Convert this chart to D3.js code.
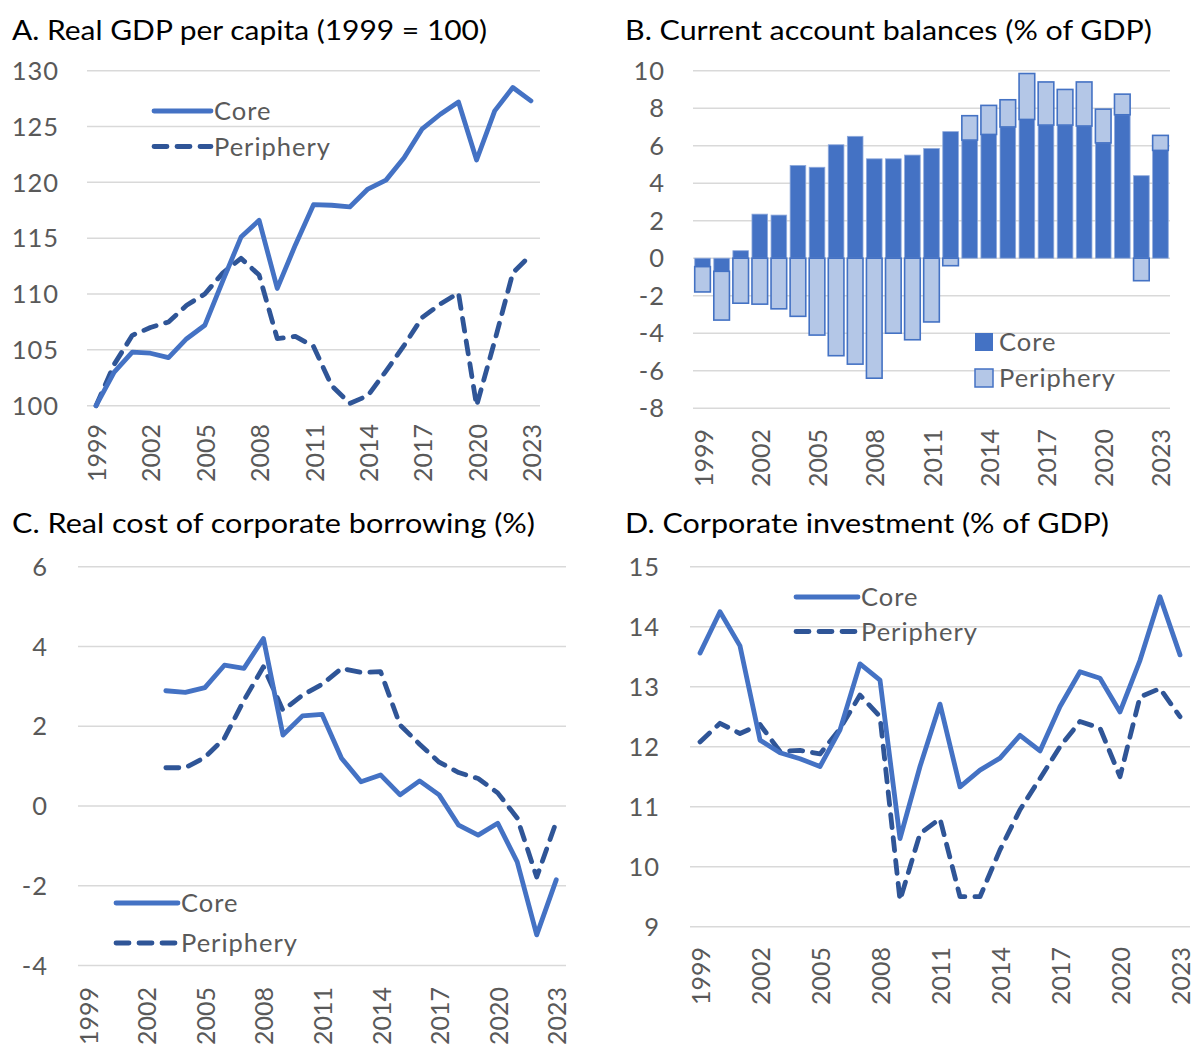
<!DOCTYPE html>
<html>
<head>
<meta charset="utf-8">
<script src="https://cdn.jsdelivr.net/npm/d3@7"></script>
<style>
  html, body { margin: 0; padding: 0; background: #fff; }
  svg text { font-family: Lato, "Open Sans", "DejaVu Sans", sans-serif; }
</style>
</head>
<body>
<svg id="chart" width="1196" height="1049"></svg>
<script>
// ---------- DATA ----------
const years = [1999,2000,2001,2002,2003,2004,2005,2006,2007,2008,2009,2010,2011,2012,2013,2014,2015,2016,2017,2018,2019,2020,2021,2022,2023];
const xTickLabels = ["1999","2002","2005","2008","2011","2014","2017","2020","2023"];
const seriesNames = ["Core", "Periphery"];

// A. Real GDP per capita (1999 = 100)
const gdpCore = [100,103.0,104.8,104.7,104.3,106.0,107.2,111.2,115.1,116.6,110.5,114.4,118.0,117.95,117.8,119.4,120.2,122.2,124.8,126.1,127.2,122.0,126.4,128.5,127.3];
const gdpPeriphery = [100,103.7,106.3,107.0,107.5,109.0,110.0,111.9,113.2,111.7,106.0,106.2,105.3,101.8,100.2,100.9,103.1,105.4,107.9,109.1,110.1,100.0,105.8,111.9,113.5];
const gdpTicks = [100,105,110,115,120,125,130];

// B. Current account balances (% of GDP)
const caCore = [-0.45,-0.7,0.4,2.35,2.3,4.95,4.85,6.05,6.5,5.3,5.3,5.5,5.85,6.75,6.3,6.6,7.0,7.4,7.1,7.1,7.05,6.15,7.65,4.4,5.75];
const caPeriphery = [-1.35,-2.6,-2.4,-2.45,-2.7,-3.1,-4.1,-5.2,-5.65,-6.4,-4.0,-4.35,-3.4,-0.4,1.3,1.55,1.45,2.45,2.3,1.9,2.35,1.8,1.1,-1.2,0.8];
const caTicks = [-8,-6,-4,-2,0,2,4,6,8,10];

// C. Real cost of corporate borrowing (%)
const costCore = [null,null,null,null,2.89,2.85,2.97,3.53,3.45,4.2,1.78,2.26,2.3,1.2,0.61,0.78,0.28,0.63,0.28,-0.48,-0.73,-0.43,-1.4,-3.23,-1.85];
const costPeriphery = [null,null,null,null,0.96,0.96,1.22,1.7,2.65,3.49,2.4,2.78,3.05,3.45,3.35,3.37,2.03,1.55,1.1,0.84,0.69,0.33,-0.3,-1.78,-0.4];
const costTicks = [-4,-2,0,2,4,6];

// D. Corporate investment (% of GDP)
const invCore = [13.56,14.25,13.68,12.11,11.9,11.8,11.67,12.28,13.38,13.11,10.47,11.67,12.71,11.33,11.61,11.81,12.19,11.93,12.67,13.25,13.14,12.58,13.44,14.5,13.53];
const invPeriphery = [12.08,12.39,12.22,12.37,11.92,11.94,11.88,12.3,12.86,12.5,9.44,10.55,10.8,9.5,9.5,10.28,10.95,11.47,12.0,12.42,12.31,11.5,12.83,12.97,12.5];
const invTicks = [9,10,11,12,13,14,15];

// ---------- STYLE ----------
const COL_CORE = "#4472C4";
const COL_PER = "#2F5597";
const COL_PER_BAR = "#B4C7E7";
const GRID = "#D9D9D9";
const TICK_COL = "#595959";
const TICK_SIZE = 25.5;
const TICK_LS = 1;
const XLAB_SIZE = 25;
const LINE_W = 4.8;
const DASH = "13,10";

const svg = d3.select("#chart");

function title(txt, x, y, len) {
  svg.append("text").attr("x", x).attr("y", y)
    .attr("font-size", 27).attr("fill", "#000")
    .attr("textLength", len).attr("lengthAdjust", "spacingAndGlyphs")
    .text(txt);
}

function axes(g, x, y, ticks, yLabelRight, xLabelTop) {
  g.append("g").selectAll("line").data(ticks).join("line")
    .attr("x1", x.range()[0]).attr("x2", x.range()[1])
    .attr("y1", d => y(d)).attr("y2", d => y(d))
    .attr("stroke", GRID).attr("stroke-width", 1.5);
  g.append("g").selectAll("text").data(ticks).join("text")
    .attr("x", yLabelRight + TICK_LS).attr("y", d => y(d)).attr("dy", "0.36em")
    .attr("text-anchor", "end").attr("font-size", TICK_SIZE).attr("fill", TICK_COL)
    .attr("letter-spacing", TICK_LS)
    .text(d => d);
  g.append("g").selectAll("text").data(xTickLabels).join("text")
    .attr("transform", d => `translate(${x(+d) + x.bandwidth() / 2 + 1},${xLabelTop}) rotate(-90)`)
    .attr("dy", "0.36em")
    .attr("text-anchor", "end").attr("font-size", XLAB_SIZE).attr("fill", TICK_COL)
    .text(d => d);
}

function linePanel(opts) {
  const g = svg.append("g");
  const x = d3.scaleBand().domain(years).range(opts.xRange);
  const y = d3.scaleLinear().domain(opts.yDomain).range(opts.yRange);
  axes(g, x, y, opts.ticks, opts.yLabelRight, opts.xLabelTop);
  const cx = d => x(d) + x.bandwidth() / 2;
  const line = d3.line()
    .defined(d => d[1] !== null)
    .x(d => cx(d[0])).y(d => y(d[1]));
  const series = [
    { name: seriesNames[0], vals: opts.core, color: COL_CORE, dash: null },
    { name: seriesNames[1], vals: opts.per, color: COL_PER, dash: DASH }
  ];
  [series[1], series[0]].forEach(s => {
    g.append("path")
      .datum(years.map((yr, i) => [yr, s.vals[i]]))
      .attr("d", line)
      .attr("fill", "none").attr("stroke", s.color).attr("stroke-width", LINE_W)
      .attr("stroke-linejoin", "round")
      .attr("stroke-linecap", "round")
      .attr("stroke-dasharray", s.dash);
  });
  const lg = g.append("g");
  series.forEach((s, i) => {
    const ly = opts.legend.y + i * opts.legend.gap;
    lg.append("line")
      .attr("x1", opts.legend.x).attr("x2", opts.legend.x + opts.legend.len)
      .attr("y1", ly).attr("y2", ly)
      .attr("stroke", s.color).attr("stroke-width", LINE_W)
      .attr("stroke-linecap", "round")
      .attr("stroke-dasharray", s.dash);
    lg.append("text")
      .attr("x", opts.legend.x + opts.legend.len + 3).attr("y", ly).attr("dy", "0.36em")
      .attr("font-size", TICK_SIZE).attr("fill", TICK_COL)
      .attr("letter-spacing", TICK_LS)
      .text(s.name);
  });
}

// ---------- PANEL A ----------
title("A.  Real GDP per capita (1999 = 100)", 12, 40, 475);
linePanel({
  xRange: [87, 540], yDomain: [100, 130], yRange: [405.7, 70.7],
  ticks: gdpTicks, yLabelRight: 58, xLabelTop: 424,
  core: gdpCore, per: gdpPeriphery,
  legend: { x: 154, y: 111, gap: 35.5, len: 57 }
});

// ---------- PANEL B ----------
title("B.  Current account balances (% of GDP)", 625, 40, 527);
(function () {
  const g = svg.append("g");
  const x = d3.scaleBand().domain(years).range([693, 1170]).paddingInner(0.18).paddingOuter(0.09);
  const xFull = d3.scaleBand().domain(years).range([693, 1170]);
  const y = d3.scaleLinear().domain([-8, 10]).range([408.2, 70.7]);
  axes(g, xFull, y, caTicks, 664, 429);
  const table = years.map((yr, i) => ({ year: yr, Core: caCore[i], Periphery: caPeriphery[i] }));
  const stacked = d3.stack().keys(seriesNames).offset(d3.stackOffsetDiverging)(table);
  const fills = [COL_CORE, COL_PER_BAR];
  const strokes = ["#8FAADC", COL_CORE];
  stacked.forEach((layer, k) => {
    g.append("g").selectAll("rect").data(layer).join("rect")
      .attr("x", d => x(d.data.year))
      .attr("width", x.bandwidth())
      .attr("y", d => y(Math.max(d[0], d[1])))
      .attr("height", d => Math.abs(y(d[0]) - y(d[1])))
      .attr("fill", fills[k])
      .attr("stroke", strokes[k]).attr("stroke-width", k === 0 ? 0.8 : 1.6);
  });
  const lx = 975, ly = 342, gap = 36;
  seriesNames.forEach((n, i) => {
    g.append("rect").attr("x", lx).attr("y", ly + i * gap - 9).attr("width", 18).attr("height", 18)
      .attr("fill", fills[i]).attr("stroke", i === 1 ? COL_CORE : "none").attr("stroke-width", 1.5);
    g.append("text").attr("x", lx + 24).attr("y", ly + i * gap).attr("dy", "0.36em")
      .attr("font-size", TICK_SIZE).attr("fill", TICK_COL)
      .attr("letter-spacing", TICK_LS).text(n);
  });
})();

// ---------- PANEL C ----------
title("C.  Real cost of corporate borrowing (%)", 12, 533, 523);
linePanel({
  xRange: [78, 566], yDomain: [-4, 6], yRange: [965.6, 566.7],
  ticks: costTicks, yLabelRight: 47, xLabelTop: 987,
  core: costCore, per: costPeriphery,
  legend: { x: 116, y: 903, gap: 40, len: 62 }
});

// ---------- PANEL D ----------
title("D.  Corporate investment (% of GDP)", 625, 533, 484);
linePanel({
  xRange: [690, 1190], yDomain: [9, 15], yRange: [926.7, 566.7],
  ticks: invTicks, yLabelRight: 659, xLabelTop: 947,
  core: invCore, per: invPeriphery,
  legend: { x: 796, y: 597, gap: 34.5, len: 62 }
});
</script>
</body>
</html>
